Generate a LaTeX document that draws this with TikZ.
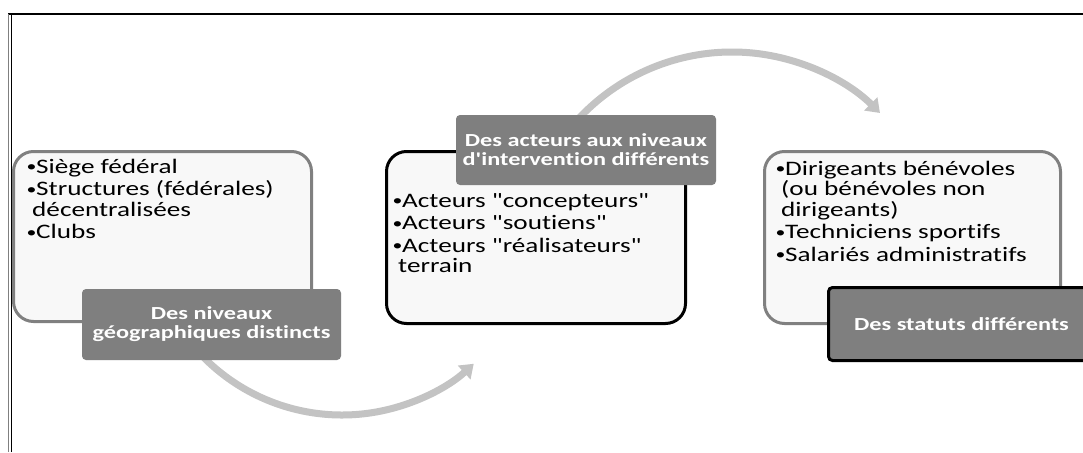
\documentclass[tikz,border=0pt]{standalone}
\usepackage{fontspec}
\setmainfont{Carlito}[FakeStretch=1.32, Ligatures={TeXOff,CommonOff}]
\usetikzlibrary{arrows.meta}
\definecolor{boxgray}{HTML}{808080}
\definecolor{lblgray}{HTML}{7F7F7F}
\definecolor{arcgray}{HTML}{C3C3C3}
\definecolor{boxfill}{HTML}{F8F8F8}
\newcommand{\bulletmark}{\makebox[10pt][l]{\hspace{0.5pt}{\fontsize{15}{15}\selectfont\raisebox{1.5pt}{•}}}}
\newcommand{\bitem}{\par\hangindent=6pt\hangafter=1\noindent\bulletmark}
\newcommand{\blist}[1]{\parbox[t]{290pt}{\fontsize{20.6}{20.5}\selectfont\raggedright\setlength{\parskip}{2.2pt}#1}}
\tikzset{
  listbox/.style={draw=boxgray, line width=3pt, fill=boxfill, rounded corners=20pt, inner sep=0pt},
  darkbox/.style={listbox, draw=black},
  lbl/.style={fill=lblgray, rounded corners=4pt, text=white, inner sep=0pt, align=center,
    font=\bfseries\fontsize{18.4}{19}\selectfont},
  darklbl/.style={lbl, draw=black, line width=3pt},
  listtext/.style={inner sep=0pt, anchor=base west},
  flow/.style={draw=arcgray, line width=7pt, -{Triangle[width=18pt,length=13pt]}},
  frame/.style={line width=1.1pt}
}
\begin{document}
\begin{tikzpicture}[x=1pt,y=1pt]
\useasboundingbox (0,0) rectangle (1083,-452);
\clip (0,0) rectangle (1083,-452);
\fill[white] (0,0) rectangle (1083,-452);
% frame
\coordinate (fl) at (8,-14);
\coordinate (fr) at (1083,-14);
\coordinate (fb1) at (8.5,-452);
\coordinate (fb2) at (11.5,-452);
\draw[frame] (fl) -- (fr);
\draw[line width=1pt, gray] (8.5,-14) -- (fb1);
\draw[line width=1pt, black] (11.5,-14) -- (fb2);
% arc centres
\coordinate (c1) at (342,-220);
\coordinate (c2) at (732,-262);
% connectors (behind)
\draw[flow] (c1) ++(222:195) arc[start angle=222, end angle=312.5, radius=195];
\draw[flow] (c2) ++(140:210) arc[start angle=140, end angle=45.2, radius=210];
% boxes
\node[listbox, minimum width=298pt, minimum height=170pt] (B1) at (162.5,-236.5) {};
\node[darkbox, minimum width=299pt, minimum height=172pt] (B2) at (536,-237.5) {};
\node[listbox, minimum width=296pt, minimum height=172pt] (B3) at (912.5,-237.5) {};
% list texts
\node[listtext] (T1) at (26,-173) {\blist{\bitem Siège fédéral\bitem Structures (fédérales)\newline décentralisées\bitem Clubs}};
\node[listtext] (T2) at (392,-207) {\blist{\bitem Acteurs "concepteurs"\bitem Acteurs "soutiens"\bitem Acteurs "réalisateurs"\newline terrain}};
\node[listtext] (T3) at (775,-175) {\blist{\bitem Dirigeants bénévoles\newline (ou bénévoles non\newline dirigeants)\bitem Techniciens sportifs\bitem Salariés administratifs}};
% labels
\node[lbl, minimum width=259pt, minimum height=71pt] (L1) at (211.5,-324.5) {Des niveaux\\géographiques distincts};
\node[lbl, minimum width=260pt, minimum height=70pt] (L2) at (586,-150) {Des acteurs aux niveaux\\d'intervention différents};
\node[darklbl, minimum width=266pt, minimum height=73pt] (L3) at (961.5,-324) {Des statuts différents};
\end{tikzpicture}
\end{document}
